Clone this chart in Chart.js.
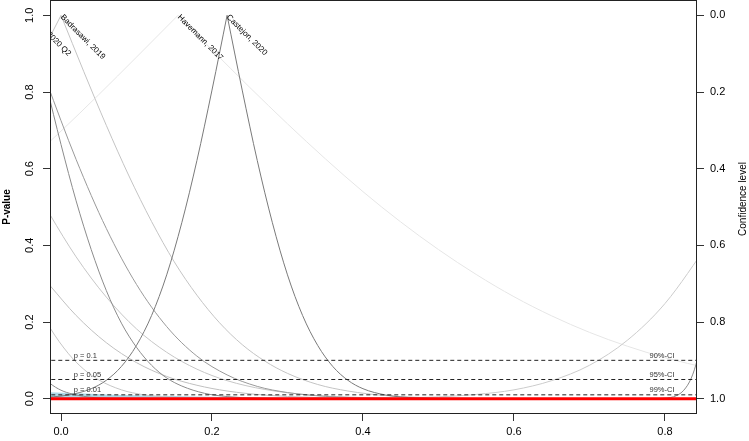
<!DOCTYPE html>
<html>
<head>
<meta charset="utf-8">
<script src="https://cdn.jsdelivr.net/npm/chart.js@4.4.0/dist/chart.umd.min.js"></script>
<style>
  body { margin: 0; background: #fff; }
  #wrap { width: 749px; height: 441px; }
</style>
</head>
<body>
<div id="wrap"><canvas id="grafico" width="749" height="441"></canvas></div>
<script>
// plot limits
const xMin = -0.0146, xMax = 0.8425;
const pMin = -0.04, pMax = 1.04;

const xTicks = [0, 0.2, 0.4, 0.6, 0.8];
const pTicks = [0, 0.2, 0.4, 0.6, 0.8, 1.0];

const pLevels = [0.1, 0.05, 0.01];
const pLabels = ["p = 0.1", "p = 0.05", "p = 0.01"];
const ciLabels = ["90%-CI", "95%-CI", "99%-CI"];

// labelled studies (name, estimate at p = 1)
const studyNames = ["Study, 2020 Q2", "Badrasawi, 2019", "Havemann, 2017", "Castejon, 2020"];
const studyPeaks = [-0.041, 0, 0.155, 0.22];

// p-value curves, [x, p]
const havemannLeft = [[-0.03, 0.643], [0.0, 0.698], [0.05, 0.793], [0.10, 0.891], [0.155, 1.0]];
const havemannRight = [[0.155, 1.0], [0.20, 0.910], [0.25, 0.812], [0.30, 0.717], [0.35, 0.626], [0.40, 0.540], [0.45, 0.461], [0.50, 0.389], [0.55, 0.324], [0.60, 0.266], [0.65, 0.216], [0.70, 0.173], [0.75, 0.137], [0.80, 0.107], [0.86, 0.078]];

const castejonLeft = [[-0.03, 0.002], [0.01, 0.0096], [0.04, 0.026], [0.06, 0.048], [0.08, 0.084], [0.10, 0.139], [0.12, 0.217], [0.14, 0.323], [0.16, 0.459], [0.18, 0.621], [0.20, 0.805], [0.22, 1.0]];
const castejonRight = [[0.22, 1.0], [0.24, 0.805], [0.26, 0.621], [0.28, 0.459], [0.30, 0.323], [0.32, 0.217], [0.34, 0.139], [0.36, 0.084], [0.38, 0.048], [0.40, 0.026], [0.43, 0.0096], [0.47, 0.002], [0.52, 0.0002], [0.86, 0]];

const badrasawiLeft = [[-0.03, 0.885], [0, 1.0]];
const badrasawiRight = [[0, 1.0], [0.03, 0.854], [0.06, 0.713], [0.09, 0.581], [0.12, 0.462], [0.15, 0.357], [0.18, 0.270], [0.21, 0.198], [0.24, 0.141], [0.27, 0.098], [0.30, 0.066], [0.34, 0.037], [0.38, 0.020], [0.43, 0.008], [0.50, 0.002], [0.60, 0.0002], [0.86, 0]];

const q2Right = [[-0.041, 1.0], [-0.02, 0.823], [0.0, 0.663], [0.02, 0.516], [0.04, 0.389], [0.06, 0.282], [0.08, 0.197], [0.10, 0.134], [0.12, 0.087], [0.14, 0.054], [0.16, 0.033], [0.19, 0.014], [0.22, 0.0055], [0.26, 0.0014], [0.35, 0], [0.86, 0]];
const curveB = [[-0.051, 1.0], [-0.02, 0.831], [0.02, 0.624], [0.06, 0.444], [0.10, 0.298], [0.14, 0.188], [0.18, 0.111], [0.22, 0.062], [0.26, 0.032], [0.30, 0.016], [0.35, 0.006], [0.42, 0.0012], [0.50, 0.0001], [0.86, 0]];

const curveC = [[-0.03, 0.533], [-0.0146, 0.48], [0.02, 0.370], [0.06, 0.265], [0.10, 0.182], [0.14, 0.121], [0.18, 0.077], [0.22, 0.047], [0.27, 0.024], [0.33, 0.0096], [0.40, 0.003], [0.50, 0.0004], [0.86, 0]];
const curveD = [[-0.03, 0.33], [-0.0146, 0.295], [0.02, 0.217], [0.06, 0.146], [0.10, 0.094], [0.14, 0.058], [0.18, 0.035], [0.22, 0.020], [0.27, 0.0093], [0.33, 0.0035], [0.42, 0.0006], [0.86, 0]];
const curveE = [[-0.03, 0.242], [-0.0146, 0.185], [0.01, 0.117], [0.03, 0.077], [0.05, 0.049], [0.08, 0.023], [0.11, 0.010], [0.15, 0.003], [0.20, 0.0005], [0.86, 0]];
const curveF = [[-0.03, 0.07], [-0.0146, 0.040], [0.0, 0.022], [0.015, 0.012], [0.03, 0.006], [0.05, 0.002], [0.08, 0.0004], [0.86, 0]];

const curveG = [[-0.02, 0], [0.40, 0.0007], [0.45, 0.0019], [0.50, 0.0047], [0.55, 0.011], [0.60, 0.023], [0.65, 0.047], [0.70, 0.087], [0.75, 0.152], [0.80, 0.248], [0.86, 0.411]];
const curveH = [[-0.02, 0], [0.78, 0.0001], [0.80, 0.0013], [0.815, 0.0077], [0.825, 0.022], [0.835, 0.054], [0.843, 0.103], [0.85, 0.171], [0.86, 0.317]];

// shaded region near p = 0
const predBand = [[-0.02, 0.017], [0.02, 0.014], [0.06, 0.011], [0.10, 0.009], [0.15, 0.007], [0.20, 0.005], [0.30, 0.003], [0.40, 0.0015], [0.50, 0.0005], [0.60, 0], [0.86, 0]];

const curves = [
  { pts: havemannLeft, cor: "#e6e6e6" },
  { pts: havemannRight, cor: "#e6e6e6" },
  { pts: curveC, cor: "#c6c6c6" },
  { pts: curveD, cor: "#c0c0c0" },
  { pts: curveE, cor: "#c6c6c6" },
  { pts: curveG, cor: "#cccccc" },
  { pts: badrasawiLeft, cor: "#c4c4c4" },
  { pts: badrasawiRight, cor: "#c4c4c4" },
  { pts: curveB, cor: "#9a9a9a" },
  { pts: q2Right, cor: "#8c8c8c" },
  { pts: curveF, cor: "#8c8c8c" },
  { pts: curveH, cor: "#8a8a8a" },
  { pts: castejonLeft, cor: "#7a7a7a" },
  { pts: castejonRight, cor: "#7a7a7a" }
];

const toPts = arr => arr.map(([x, p]) => ({ x: x, y: p }));
const FONT = "'Liberation Sans', Arial, sans-serif";

let datasets = [];

// red line at p = 0
datasets.push({
  data: [{ x: -0.05, y: 0 }, { x: 0.9, y: 0 }],
  borderColor: "#ff0000", borderWidth: 3, order: 0
});

pLevels.forEach(p => {
  datasets.push({
    data: [{ x: -0.05, y: p }, { x: 0.9, y: p }],
    borderColor: "#222", borderWidth: 1, borderDash: [4, 3], order: 1
  });
});

curves.forEach((c, i) => {
  datasets.push({
    data: toPts(c.pts), borderColor: c.cor, borderWidth: 1,
    cubicInterpolationMode: "monotone", order: 20 - i
  });
});

datasets.push({
  data: toPts(predBand), borderColor: "rgba(0,0,0,0)", borderWidth: 0,
  backgroundColor: "#add8e6", fill: "origin", cubicInterpolationMode: "monotone", order: 50
});

const extras = {
  id: "extras",
  afterDatasetsDraw(chart) {
    const { ctx, chartArea: a, scales: { x, y } } = chart;
    ctx.save();
    ctx.beginPath();
    ctx.rect(a.left, a.top, a.right - a.left, a.bottom - a.top);
    ctx.clip();

    ctx.font = "8px " + FONT;
    ctx.fillStyle = "#000";
    ctx.textBaseline = "middle";
    ctx.textAlign = "left";
    studyNames.forEach((nome, i) => {
      ctx.save();
      ctx.translate(x.getPixelForValue(studyPeaks[i]), y.getPixelForValue(1));
      ctx.rotate(Math.PI / 4);
      ctx.fillText(nome, 1, 0);
      ctx.restore();
    });

    ctx.font = "7.5px " + FONT;
    ctx.fillStyle = "#333";
    ctx.textBaseline = "bottom";
    pLevels.forEach((p, i) => {
      const py = y.getPixelForValue(p) - 1;
      ctx.textAlign = "left";
      ctx.fillText(pLabels[i], x.getPixelForValue(0.017), py);
      ctx.textAlign = "right";
      ctx.fillText(ciLabels[i], x.getPixelForValue(0.8127), py);
    });
    ctx.restore();
  },
  afterDraw(chart) {
    const { ctx, chartArea: a } = chart;
    ctx.save();
    ctx.strokeStyle = "#222";
    ctx.lineWidth = 1;
    ctx.strokeRect(a.left + 0.5, a.top + 0.5, a.right - a.left - 1, a.bottom - a.top - 1);

    const midY = (a.top + a.bottom) / 2;
    ctx.fillStyle = "#000";
    ctx.textAlign = "center";
    ctx.textBaseline = "middle";
    ctx.font = "bold 10px " + FONT;
    ctx.save();
    ctx.translate(7, midY);
    ctx.rotate(-Math.PI / 2);
    ctx.fillText("P-value", 0, 0);
    ctx.restore();
    ctx.font = "10px " + FONT;
    ctx.save();
    ctx.translate(743, midY - 8);
    ctx.rotate(-Math.PI / 2);
    ctx.fillText("Confidence level", 0, 0);
    ctx.restore();
    ctx.restore();
  }
};

// fixed axis sizes, no extra padding for the labels
const fixSize = (w, h) => s => {
  if (w) s.width = w;
  if (h) s.height = h;
  s.paddingTop = 0; s.paddingBottom = 0; s.paddingLeft = 0; s.paddingRight = 0;
};

const tickGrid = { display: true, drawOnChartArea: false, drawTicks: true, tickLength: 7, color: "#333" };
const tickFont = { family: FONT, size: 11 };

new Chart(document.getElementById("grafico"), {
  type: "scatter",
  data: { datasets: datasets },
  options: {
    responsive: false,
    animation: false,
    events: [],
    layout: { padding: 0 },
    elements: { point: { radius: 0 }, line: { tension: 0 } },
    datasets: { scatter: { showLine: true, pointRadius: 0, fill: false } },
    plugins: { legend: { display: false }, tooltip: { enabled: false } },
    scales: {
      x: {
        type: "linear", position: "bottom", min: xMin, max: xMax,
        afterBuildTicks: s => { s.ticks = xTicks.map(v => ({ value: v })); },
        afterFit: fixSize(0, 27),
        grid: tickGrid, border: { display: false },
        ticks: { color: "#000", font: tickFont, padding: 4, maxRotation: 0, callback: v => v.toFixed(1) }
      },
      y: {
        type: "linear", position: "left", min: pMin, max: pMax,
        afterBuildTicks: s => { s.ticks = pTicks.map(v => ({ value: v })); },
        afterFit: fixSize(50, 0),
        grid: tickGrid, border: { display: false },
        ticks: { color: "#000", font: tickFont, padding: 5, minRotation: 90, maxRotation: 90, crossAlign: "center", callback: v => v.toFixed(1) }
      },
      y2: {
        type: "linear", position: "right", reverse: true, min: pMin, max: pMax,
        afterBuildTicks: s => { s.ticks = pTicks.map(v => ({ value: v })); },
        afterFit: fixSize(52, 0),
        grid: tickGrid, border: { display: false },
        ticks: { color: "#000", font: tickFont, padding: 6, callback: v => v.toFixed(1) }
      }
    }
  },
  plugins: [extras]
});
</script>
</body>
</html>
